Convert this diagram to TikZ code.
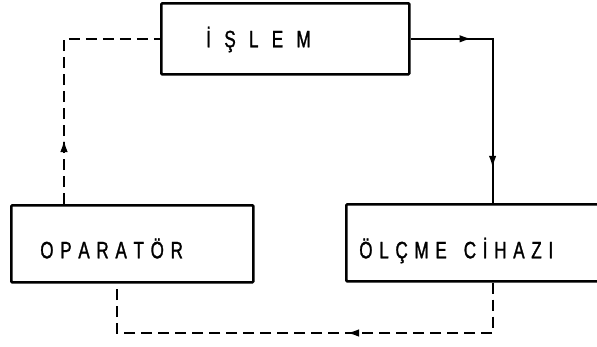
\documentclass[tikz,border=0pt]{standalone}
\usepackage{fontspec}
\setmainfont{Liberation Sans}[FakeStretch=0.72,FakeBold=1.2]
\usetikzlibrary{arrows.meta,decorations.markings,calc}
\newcommand\gp{\kern6.7pt}
\newcommand\gq{\kern13.3pt}
\begin{document}
\begin{tikzpicture}[x=1pt,y=-1pt,
  box/.style={draw, line width=2.6pt, rounded corners=1pt, anchor=north west,
    inner ysep=0pt, align=left, text depth=0pt,
    font=\fontsize{23.7pt}{24pt}\selectfont},
  conn/.style={line width=1.8pt},
  dashconn/.style={conn, dash pattern=on 11pt off 6pt},
  tipmark/.style 2 args={postaction={decorate}, decoration={markings,
    mark=at position #1 with {\arrow{Latex[length=12pt,width=7.5pt]}},
    mark=at position #2 with {\arrow{Latex[length=12pt,width=7.5pt]}}}},
  onetip/.style={postaction={decorate}, decoration={markings,
    mark=at position #1 with {\arrow{Latex[length=12pt,width=7.5pt]}}}}
]
\useasboundingbox (0,0) rectangle (597,346);
\clip (0,0) rectangle (597,346);

\node[box, minimum width=248pt, minimum height=71pt, inner xsep=45pt,
  text width=158pt, text height=17pt] (islem) at (160,2)
  {İ\gq Ş\gq L\gq E\gq M};
\node[box, minimum width=242pt, minimum height=77pt, inner xsep=29pt,
  text width=184pt, text height=29pt] (oper) at (10,204)
  {O\gp P\gp A\gp R\gp A\gp T\gp Ö\gp R};
\node[box, minimum width=300pt, minimum height=77pt, inner xsep=13pt,
  text width=274pt, text height=31pt] (olcme) at (345,203)
  {Ö\gp L\gp Ç\gp M\gp E\kern17pt C\gp İ\gp H\gp A\gp Z\gp I};

\path (islem.west) -- ++(-96,0) coordinate (lc);
\path (islem.east) -- ++(82,0) coordinate (rc);
\coordinate (bl) at (117,333);
\coordinate (br) at (rc |- bl);

\draw[dashconn, onetip=64pt] (lc |- oper.north) -- (lc) -- (islem.west);
\draw[conn, tipmark={61pt}{211pt}] (islem.east) -- (rc) -- (rc |- olcme.north);
\draw[dashconn, onetip=196pt] (br |- olcme.south) -- (br) -- (bl) -- (bl |- oper.south);
\end{tikzpicture}
\end{document}
